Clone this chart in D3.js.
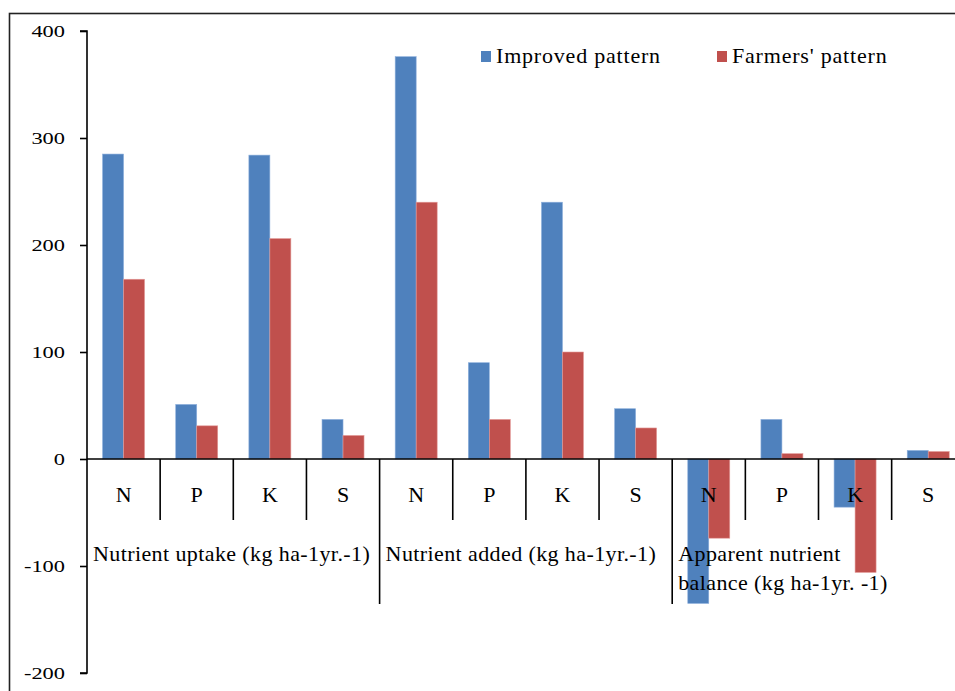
<!DOCTYPE html>
<html>
<head>
<meta charset="utf-8">
<script src="https://cdn.jsdelivr.net/npm/d3@7"></script>
<style>
  html, body { margin: 0; padding: 0; background: #fff; }
  svg { display: block; }
  text { font-family: "Liberation Serif", "Times New Roman", serif; fill: #000; }
</style>
</head>
<body>
<svg id="chart" width="955" height="691"></svg>
<script>
// ---- data ----
const nutrients = ["N", "P", "K", "S"];
const groupLabels = [
  ["Nutrient uptake (kg ha-1yr.-1)"],
  ["Nutrient added (kg ha-1yr.-1)"],
  ["Apparent nutrient", "balance (kg ha-1yr. -1)"]
];
const seriesNames = ["Improved pattern", "Farmers' pattern"];
const improved = [285, 51, 284, 37, 376, 90, 240, 47, -135, 37, -45, 8];
const farmers  = [168, 31, 206, 22, 240, 37, 100, 29, -74, 5, -106, 7];
const yTicks = [400, 300, 200, 100, 0, -100, -200];

// ---- layout ----
const colors = ["#4F81BD", "#C0504D"];
const strokes = ["#8EB0DC", "#E39A98"];
const svg = d3.select("#chart");
svg.append("rect").attr("width", 955).attr("height", 691).attr("fill", "#fff");

// outer frame
svg.append("rect")
  .attr("x", 9.5).attr("y", 13.5).attr("width", 980).attr("height", 720)
  .attr("fill", "none").attr("stroke", "#222").attr("stroke-width", 1.6);

const left = 87, step = 73.15;
const nCat = groupLabels.length * nutrients.length;
const cats = d3.range(nCat);
const x = d3.scaleBand().domain(cats).range([left, left + step * nCat]).padding(0);
const bw = x.bandwidth();
const barW = 21;
const xs = d3.scaleBand().domain([0, 1])
  .range([(bw - 2 * barW) / 2, (bw + 2 * barW) / 2]).padding(0);
const y = d3.scaleLinear().domain([-200, 400]).range([673, 31]);

// bars
const series = [improved, farmers];
series.forEach((vals, s) => {
  svg.append("g").selectAll("rect")
    .data(vals)
    .join("rect")
    .attr("x", (d, i) => x(i) + xs(s))
    .attr("width", xs.bandwidth())
    .attr("y", d => Math.min(y(d), y(0)))
    .attr("height", d => Math.abs(y(d) - y(0)))
    .attr("fill", colors[s])
    .attr("stroke", strokes[s])
    .attr("stroke-width", 0.6);
});

// y axis
const yAxis = d3.axisLeft(y).tickValues(yTicks).tickSize(7).tickPadding(0).tickFormat(d => String(d));
const gy = svg.append("g").attr("transform", `translate(${left},0)`).call(yAxis);
gy.select(".domain").attr("stroke", "#000").attr("stroke-width", 1.6)
  .attr("d", `M-7,${y(400)}H0V${y(-200)}H-7`);
gy.selectAll(".tick line").attr("stroke", "#000").attr("stroke-width", 1.6);
gy.selectAll(".tick text")
  .attr("font-family", "Liberation Serif")
  .attr("font-size", 16)
  .attr("transform", "scale(1.4,1)")
  .attr("x", -22 / 1.4)
  .attr("dy", "0.34em");

// zero / category axis line
svg.append("line")
  .attr("x1", left).attr("x2", 955 + 20)
  .attr("y1", y(0)).attr("y2", y(0))
  .attr("stroke", "#000").attr("stroke-width", 1.6);

// category separators
d3.range(1, nCat + 1).forEach(i => {
  const xx = left + step * i;
  const long = i % nutrients.length === 0;
  svg.append("line")
    .attr("x1", xx).attr("x2", xx)
    .attr("y1", y(0)).attr("y2", long ? 604 : 520)
    .attr("stroke", "#000").attr("stroke-width", 1.6);
});

// category letters
svg.append("g").selectAll("text")
  .data(cats)
  .join("text")
  .attr("x", i => x(i) + bw / 2)
  .attr("y", 502)
  .attr("text-anchor", "middle")
  .attr("font-size", 22)
  .text(i => nutrients[i % nutrients.length]);

// group labels
groupLabels.forEach((lines, g) => {
  const gx = x(g * nutrients.length) + 6;
  lines.forEach((ln, k) => {
    svg.append("text")
      .attr("x", gx)
      .attr("y", 561 + k * 29)
      .attr("font-size", 22)
      .attr("letter-spacing", 0.4)
      .text(ln);
  });
});

// legend
const legendX = [481, 717];
seriesNames.forEach((name, s) => {
  svg.append("rect")
    .attr("x", legendX[s]).attr("y", 51)
    .attr("width", 10).attr("height", 11)
    .attr("fill", colors[s]);
  svg.append("text")
    .attr("x", legendX[s] + 15)
    .attr("y", 63)
    .attr("font-size", 22)
    .attr("letter-spacing", 0.8)
    .text(name);
});
</script>
</body>
</html>
